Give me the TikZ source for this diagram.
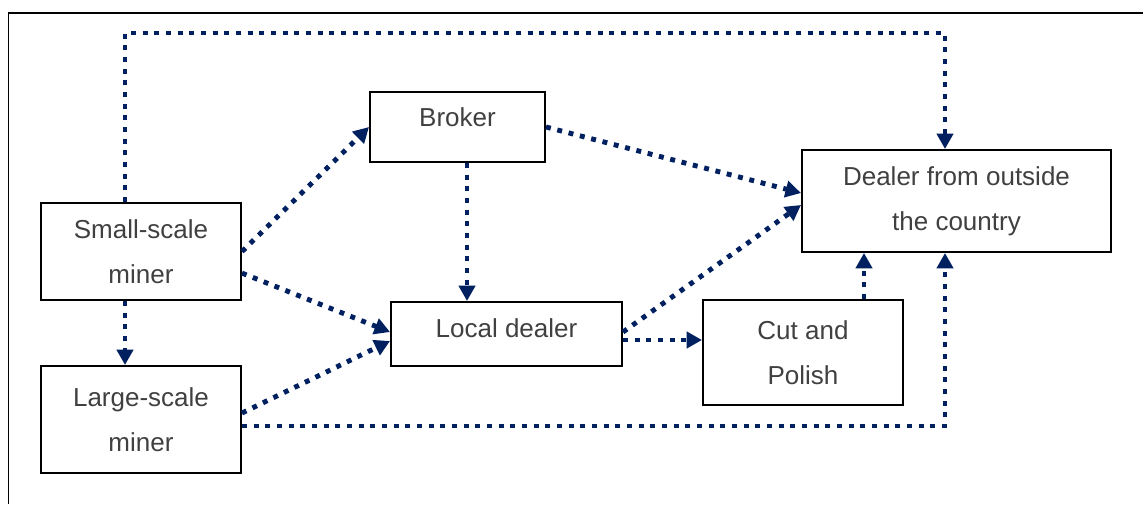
\documentclass[tikz,border=0pt]{standalone}
\usepackage{fontspec}
\setmainfont{Liberation Sans}
\usetikzlibrary{arrows.meta, positioning, calc}
\definecolor{navy}{HTML}{002060}
\definecolor{txtgray}{HTML}{404040}

\begin{document}
\begin{tikzpicture}[
    box/.style={rectangle, draw, line width=1.4pt, inner sep=0pt, align=center, text=txtgray, font=\fontsize{18.5}{32}\selectfont},
    flow/.style={-{Triangle[length=11pt, width=11.5pt]}, navy, line width=3.5pt, dash pattern=on 3.5pt off 4.8pt}
]
    \useasboundingbox (0,0) rectangle (28.575,12.6);
    \draw[line width=1.4pt] (0.2125,0) |- (28.575,12.275);

    % Miners
    \node[box, minimum width=5cm, minimum height=2.425cm] (small) at (3.525,6.3125) {Small-scale\\miner};
    \node[box, minimum width=5cm, minimum height=2.675cm] (large) at (3.525,2.1125) {Large-scale\\miner};

    % Middlemen
    \node[box, minimum width=4.375cm, minimum height=1.75cm, text depth=0.48cm] (broker) at (11.4375,9.425) {Broker};
    \node[box, minimum width=5.775cm, minimum height=1.6cm, text depth=0.3cm] (local) at (12.6625,4.25) {Local dealer};
    \node[box, minimum width=5cm, minimum height=2.625cm] (cut) at (20.075,3.7875) {Cut and\\Polish};

    % Buyer
    \node[box, minimum width=7.725cm, minimum height=2.55cm] (dealer) at (23.9125,7.575) {Dealer from outside\\the country};

    % Flows
    \coordinate (topline) at (12,11.775);
    \draw[flow] ([xshift=-0.4cm]small.north) |- (topline) -| ([xshift=-0.2875cm]dealer.north);
    \draw[flow] ([xshift=-0.4cm]small.south) -- ([xshift=-0.4cm]large.north);
    \draw[flow] (small.east) -- (broker.west);
    \draw[flow] ([yshift=-0.54cm]small.east) -- ([yshift=0.05cm]local.west);
    \draw[flow] ([yshift=0.1625cm]large.east) -- ([yshift=-0.175cm]local.west);
    \draw[flow] ([yshift=-0.1625cm]large.east) -| ([xshift=-0.2875cm]dealer.south);
    \draw[flow] ([xshift=0.2375cm]broker.south) -- ([xshift=0.2375cm]broker.south |- local.north);
    \draw[flow] (broker.east) -- ([yshift=0.2cm]dealer.west);
    \draw[flow] ([yshift=0.05cm]local.east) -- ([yshift=-0.1cm]dealer.west);
    \draw[flow] ([yshift=-0.15cm]local.east) -- ([yshift=-0.15cm]local.east -| cut.west);
    \draw[flow] ([xshift=1.525cm]cut.north) -- ([xshift=1.525cm]cut.north |- dealer.south);
\end{tikzpicture}
\end{document}
